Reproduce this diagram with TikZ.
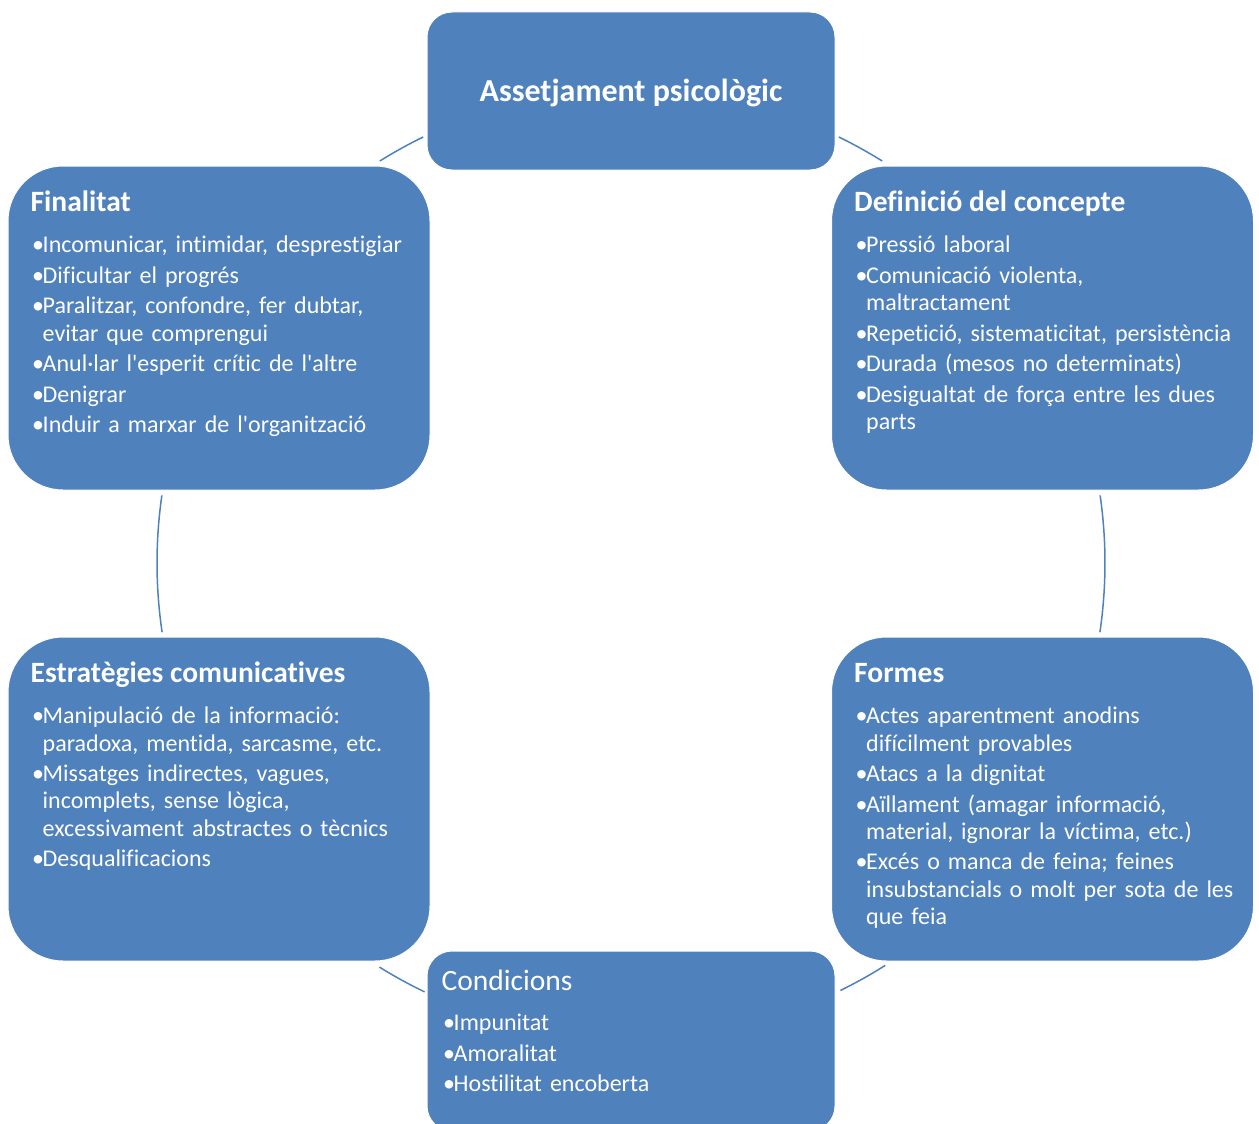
\documentclass[tikz,border=0pt]{standalone}
\usepackage{fontspec}
\setmainfont{Carlito}[Ligatures=NoCommon]
\usetikzlibrary{positioning}

\definecolor{boxblue}{HTML}{4F81BD}

\tikzset{
	bigbox/.style={fill=boxblue, draw=white, line width=1pt, rounded corners=55pt,
		minimum width=422pt, minimum height=324pt, inner sep=0pt},
	smallbox/.style={fill=boxblue, draw=white, line width=1pt, rounded corners=25pt,
		minimum width=408pt, minimum height=158pt, inner sep=0pt},
	head/.style={anchor=base west, inner sep=0pt, text=white,
		font=\bfseries\fontsize{29.5}{32}\selectfont},
	list/.style={anchor=base west, inner sep=0pt, text=white, align=left, text width=395pt,
		font=\fontsize{24}{27.3}\selectfont,
		execute at begin node={\setlength\parskip{3.2pt}\setlength\parindent{0pt}}},
	link/.style={draw=boxblue, line width=1.5pt},
}

\newcommand{\itm}[1]{\leavevmode\hangindent=12pt\hangafter=1\makebox[12pt][l]{\hspace{1.5pt}•}#1\par}
\newcommand{\apos}{\textquotesingle}

\begin{document}
\begin{tikzpicture}[x=1pt, y=-1pt]
	\useasboundingbox (0,0) rectangle (1259,1124);

	% boxes
	\node[smallbox] (top) at (631,91) {};
	\node[bigbox] (fin) at (219,328) {};
	\node[bigbox] (def) at (1042.5,328) {};
	\node[bigbox] (estr) at (219,799) {};
	\node[bigbox] (form) at (1042.5,799) {};
	\node[smallbox, minimum height=180pt] (cond) at (631,1041) {};

	% titles
	\node[text=white, inner sep=0pt, font=\bfseries\fontsize{32}{34}\selectfont] (top-h) at ([yshift=-2pt]top) {Assetjament psicològic};
	\node[head] (fin-h) at ([xshift=23pt, yshift=-45.7pt]fin.north west) {Finalitat};
	\node[head] (def-h) at ([xshift=23pt, yshift=-45.7pt]def.north west) {Definició del concepte};
	\node[head] (estr-h) at ([xshift=23pt, yshift=-45.7pt]estr.north west) {Estratègies comunicatives};
	\node[head] (form-h) at ([xshift=23pt, yshift=-45.7pt]form.north west) {Formes};
	\node[head, font=\fontsize{29.5}{32}\selectfont] (cond-h) at ([xshift=15pt, yshift=-40pt]cond.north west) {Condicions};

	% lists
	\node[list] (fin-l) at ([yshift=-41.6pt]fin-h.base west) {%
		\itm{Incomunicar, intimidar, desprestigiar}
		\itm{Dificultar el progrés}
		\itm{Paralitzar, confondre, fer dubtar,\newline evitar que comprengui}
		\itm{Anul·lar l\apos esperit crític de l\apos altre}
		\itm{Denigrar}
		\itm{Induir a marxar de l\apos organització}};
	\node[list] (def-l) at ([yshift=-41.6pt]def-h.base west) {%
		\itm{Pressió laboral}
		\itm{Comunicació violenta,\newline maltractament}
		\itm{Repetició, sistematicitat, persistència}
		\itm{Durada (mesos no determinats)}
		\itm{Desigualtat de força entre les dues\newline parts}};
	\node[list] (estr-l) at ([yshift=-41.6pt]estr-h.base west) {%
		\itm{Manipulació de la informació:\newline paradoxa, mentida, sarcasme, etc.}
		\itm{Missatges indirectes, vagues,\newline incomplets, sense lògica,\newline excessivament abstractes o tècnics}
		\itm{Desqualificacions}};
	\node[list] (form-l) at ([yshift=-41.6pt]form-h.base west) {%
		\itm{Actes aparentment anodins\newline difícilment provables}
		\itm{Atacs a la dignitat}
		\itm{Aïllament (amagar informació,\newline material, ignorar la víctima, etc.)}
		\itm{Excés o manca de feina; feines\newline insubstancials o molt per sota de les\newline que feia}};
	\node[list] (cond-l) at ([yshift=-40pt]cond-h.base west) {%
		\itm{Impunitat}
		\itm{Amoralitat}
		\itm{Hostilitat encoberta}};

	% cycle arcs
	\coordinate (hub) at (631,563);
	\draw[link] (hub) ++(-116:474) arc[start angle=-116, end angle=-122, radius=474];
	\draw[link] (hub) ++(-64:474) arc[start angle=-64, end angle=-58, radius=474];
	\draw[link] (hub) ++(-8.2:474) arc[start angle=-8.2, end angle=8.4, radius=474];
	\draw[link] (hub) ++(57.7:476) arc[start angle=57.7, end angle=63.9, radius=476];
	\draw[link] (hub) ++(115.7:476) arc[start angle=115.7, end angle=121.9, radius=476];
	\draw[link] (hub) ++(171.6:474) arc[start angle=171.6, end angle=188.2, radius=474];
\end{tikzpicture}
\end{document}
